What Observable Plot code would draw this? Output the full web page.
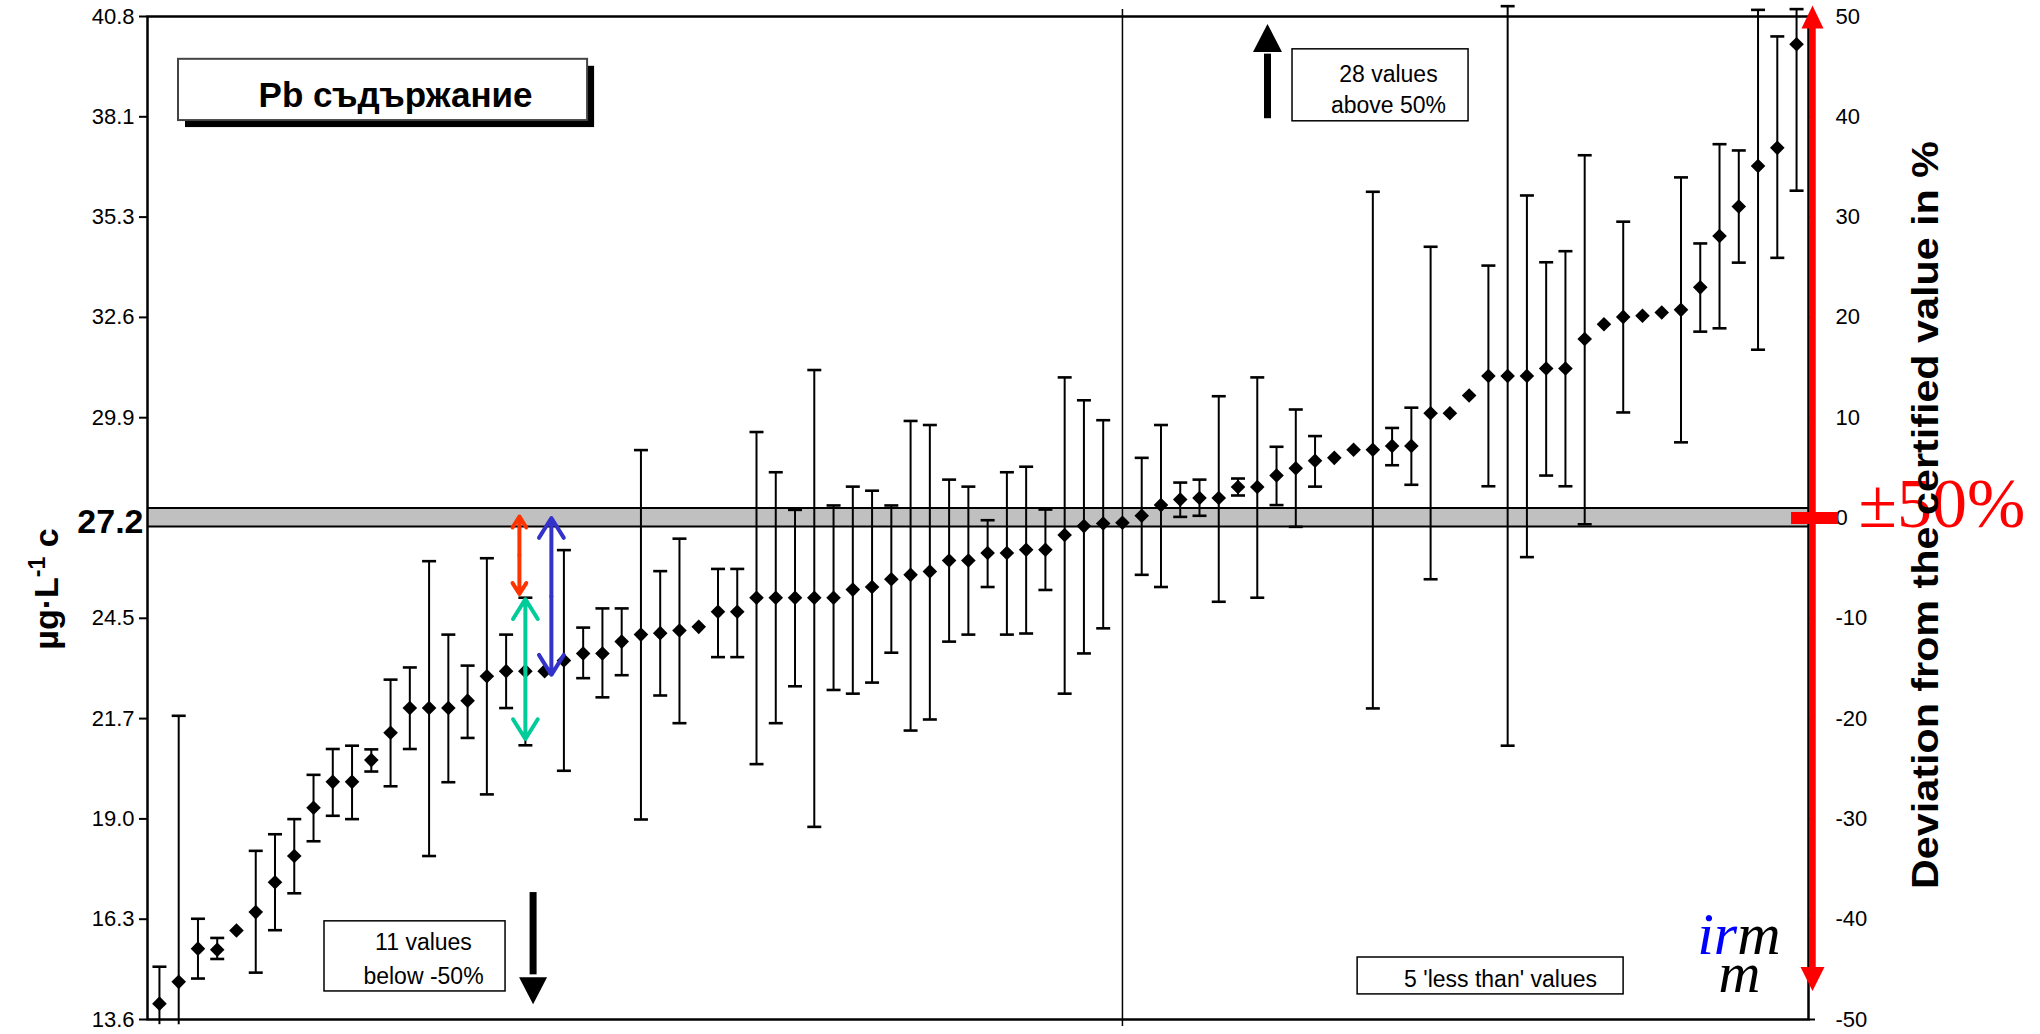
<!DOCTYPE html>
<html>
<head>
<meta charset="utf-8">
<script src="https://cdn.jsdelivr.net/npm/d3@7"></script>
<script src="https://cdn.jsdelivr.net/npm/@observablehq/plot@0.6"></script>
<style>
html, body { margin: 0; padding: 0; background: #fff; }
#chart svg { display: block; }
</style>
</head>
<body>
<div id="chart"></div>
<script>
// ---------------- data ----------------
const certifiedValue = 27.18;
const certifiedBand = [26.95, 27.45];
const labIndex = d3.range(1, 87);
const labMeans = [
  14.02, 14.61, 15.51, 15.48, 16.00, 16.50, 17.31, 18.02, 19.33, 20.03,
  20.03, 20.62, 21.36, 22.03, 22.03, 22.03, 22.23, 22.89, 23.03, 23.03,
  23.03, 23.32, 23.51, 23.51, 23.83, 24.02, 24.06, 24.13, 24.23, 24.64,
  24.64, 25.02, 25.02, 25.02, 25.02, 25.02, 25.24, 25.31, 25.52, 25.64,
  25.73, 26.03, 26.03, 26.23, 26.23, 26.32, 26.32, 26.72, 26.96, 27.03,
  27.05, 27.24, 27.53, 27.68, 27.72, 27.72, 28.02, 28.02, 28.33, 28.53,
  28.73, 28.81, 29.03, 29.03, 29.13, 29.13, 30.02, 30.02, 30.50, 31.03,
  31.03, 31.03, 31.23, 31.23, 32.03, 32.43, 32.63, 32.66, 32.75, 32.82,
  33.43, 34.82, 35.62, 36.72, 37.21, 40.02
];
const labLower = [
  13.45, 13.45, 14.70, 15.23, null, 14.86, 16.01, 17.01, 18.42, 19.11,
  19.02, 20.31, 19.91, 20.92, 18.02, 20.02, 21.22, 19.69, 22.03, 21.02,
  null, 20.33, 22.84, 22.32, 22.92, 19.01, 22.37, 21.62, null, 23.41,
  23.41, 20.51, 21.62, 22.62, 18.81, 22.52, 22.42, 22.72, 23.53, 21.42,
  21.72, 23.83, 24.02, 25.31, 24.02, 24.05, 25.23, 22.42, 23.51, 24.19,
  null, 25.64, 25.31, 27.21, 27.24, 24.91, 27.79, 25.02, 27.53, 26.94,
  28.03, null, null, 22.02, 28.61, 28.08, 25.52, null, null, 28.04,
  21.01, 26.12, 28.33, 28.04, 27.01, null, 30.04, null, null, 29.23,
  32.23, 32.32, 34.10, 31.74, 34.23, 36.05
];
const labUpper = [
  15.02, 21.82, 16.32, 15.80, null, 18.16, 18.61, 19.02, 20.22, 20.92,
  21.01, 20.91, 22.80, 23.13, 26.01, 24.02, 23.18, 26.09, 24.02, 25.02,
  null, 26.31, 24.21, 24.73, 24.73, 29.02, 25.74, 26.62, null, 25.80,
  25.80, 29.51, 28.42, 27.40, 31.19, 27.52, 28.03, 27.92, 27.52, 29.81,
  29.70, 28.22, 28.03, 27.12, 28.42, 28.57, 27.41, 30.99, 30.37, 29.83,
  null, 28.81, 29.70, 28.14, 28.22, 30.48, 28.25, 30.99, 29.11, 30.12,
  29.40, null, null, 36.02, 29.62, 30.17, 34.53, null, null, 34.02,
  41.05, 35.92, 34.11, 34.41, 37.01, null, 35.21, null, null, 36.41,
  34.62, 37.31, 37.14, 40.95, 40.23, 40.97
];
const deviationTicks = [-50, -40, -30, -20, -10, 0, 10, 20, 30, 40, 50];
const concentrationTickLabels = ["13.6", "16.3", "19.0", "21.7", "24.5", "27.2", "29.9", "32.6", "35.3", "38.1", "40.8"];
const medianLab = 51;

const titleText = "Pb съдържание";
const aboveText = "28 values\nabove 50%";
const belowText = "11 values\nbelow -50%";
const lessThanText = "5 'less than' values";
const leftTitle = "µg·L-1 c";
const rightTitle = "Deviation from the certified value in %";
const bandLabel = "±50%";
const logoTop = "irm";
const logoBottom = "m";

// ---------------- derived ----------------
const data = labIndex.map((lab, i) => ({lab, mean: labMeans[i], lower: labLower[i], upper: labUpper[i]}));
const withErr = data.filter(d => d.lower != null && d.upper != null);
const tickValues = deviationTicks.map(p => certifiedValue * (1 + p / 100));
const yDomain = [tickValues[0], tickValues[tickValues.length - 1]];
const xDomain = [0.38, 86.62];
const tickIndex = v => tickValues.findIndex(t => Math.abs(t - v) < 1e-6);

// ---------------- symbols ----------------
const diamondSym = {draw(c) { const r = 7.3; c.moveTo(0, -r); c.lineTo(r, 0); c.lineTo(0, r); c.lineTo(-r, 0); c.closePath(); }};
const capSym = {draw(c) { c.moveTo(-7, 0); c.lineTo(7, 0); }};
const triUp = (w, h) => ({draw(c) { c.moveTo(0, 0); c.lineTo(w / 2, h); c.lineTo(-w / 2, h); c.closePath(); }});
const triDown = (w, h) => ({draw(c) { c.moveTo(0, 0); c.lineTo(w / 2, -h); c.lineTo(-w / 2, -h); c.closePath(); }});

const sans = "'Liberation Sans', Arial, sans-serif";
const serif = "'Liberation Serif', 'Times New Roman', serif";
const one = [0];
const K = v => () => v;

// double headed arrow helper (two arrows from the midpoint)
function doubleArrow(x, ya, yb, color) {
  const mid = (ya + yb) / 2;
  const opts = {stroke: color, strokeWidth: 4, headLength: 8.8, headAngle: 64};
  return [
    Plot.arrow(one, {x1: K(x), x2: K(x), y1: K(mid), y2: K(ya), ...opts}),
    Plot.arrow(one, {x1: K(x), x2: K(x), y1: K(mid), y2: K(yb), ...opts})
  ];
}

const chart = Plot.plot({
  width: 2040,
  height: 1034,
  marginLeft: 147,
  marginRight: 232,
  marginTop: 16,
  marginBottom: 15,
  style: {fontFamily: sans, fontSize: "22px", background: "white", color: "black", overflow: "visible"},
  x: {domain: xDomain, axis: null},
  y: {domain: yDomain},
  marks: [
    // certified band
    Plot.rect(one, {x1: K(xDomain[0]), x2: K(xDomain[1]), y1: K(certifiedBand[0]), y2: K(certifiedBand[1]), fill: "#c0c0c0"}),
    Plot.ruleY(certifiedBand, {stroke: "black", strokeWidth: 2}),
    // median lab line
    Plot.ruleX([medianLab], {stroke: "black", strokeWidth: 1.5, insetTop: -7, insetBottom: -7}),
    // error bars
    Plot.ruleX(withErr, {x: "lab", y1: "lower", y2: "upper", stroke: "black", strokeWidth: 2}),
    Plot.dot(withErr.filter(d => d.lower >= yDomain[0]), {x: "lab", y: "lower", symbol: capSym, stroke: "black", strokeWidth: 2.6, fill: "none"}),
    Plot.dot(withErr, {x: "lab", y: "upper", symbol: capSym, stroke: "black", strokeWidth: 2.6, fill: "none"}),
    // means
    Plot.dot(data, {x: "lab", y: "mean", symbol: diamondSym, fill: "black", stroke: "none"}),
    Plot.frame({stroke: "black", strokeWidth: 2.5}),
    // left axis
    Plot.axisY({ticks: tickValues.filter((v, i) => i !== 5), anchor: "left", tickSize: 8, tickPadding: 5, strokeWidth: 2,
      tickFormat: v => concentrationTickLabels[tickIndex(v)], fontSize: 22, label: null}),
    Plot.axisY({ticks: [tickValues[5]], anchor: "left", tickSize: 0, tickPadding: 4, dy: 4,
      tickFormat: v => concentrationTickLabels[tickIndex(v)], fontSize: 34, fontWeight: "bold", label: null}),
    // right axis
    Plot.axisY({ticks: tickValues, anchor: "right", tickSize: 6, tickPadding: 21, strokeWidth: 2,
      tickFormat: v => String(deviationTicks[tickIndex(v)]), fontSize: 22, label: null}),
    // title box
    Plot.rect(one, {x1: K(1.99), x2: K(23.23), y1: K(37.95), y2: K(39.61), fill: "black", dx: 7, dy: 7}),
    Plot.rect(one, {x1: K(1.99), x2: K(23.23), y1: K(37.95), y2: K(39.61), fill: "white", stroke: "#444", strokeWidth: 2}),
    Plot.text([titleText], {x: K(13.26), y: K(38.78), text: d => d, dy: 6, fontSize: 35, fontWeight: "bold", textAnchor: "middle", lineAnchor: "middle"}),
    // above box + arrow
    Plot.rect(one, {x1: K(59.83), x2: K(68.97), y1: K(37.93), y2: K(39.88), fill: "white", stroke: "black", strokeWidth: 1.5}),
    Plot.text([aboveText], {x: K(64.81), y: K(38.15), text: d => d, fontSize: 23, lineHeight: 1.348, textAnchor: "middle", lineAnchor: "bottom"}),
    Plot.ruleX(one, {x: K(58.53), y1: K(38.0), y2: K(39.75), stroke: "black", strokeWidth: 7}),
    Plot.dot(one, {x: K(58.53), y: K(40.57), symbol: triUp(29, 28), fill: "black", stroke: "none"}),
    // below box + arrow
    Plot.rect(one, {x1: K(9.57), x2: K(18.97), y1: K(14.35), y2: K(16.25), fill: "white", stroke: "black", strokeWidth: 1.5}),
    Plot.text([belowText], {x: K(14.71), y: K(14.55), text: d => d, fontSize: 23, lineHeight: 1.478, textAnchor: "middle", lineAnchor: "bottom"}),
    Plot.ruleX(one, {x: K(20.40), y1: K(14.8), y2: K(17.03), stroke: "black", strokeWidth: 7}),
    Plot.dot(one, {x: K(20.40), y: K(14.0), symbol: triDown(28, 27), fill: "black", stroke: "none"}),
    // less-than box
    Plot.rect(one, {x1: K(63.21), x2: K(77.02), y1: K(14.27), y2: K(15.27), fill: "white", stroke: "black", strokeWidth: 1.5}),
    Plot.text([lessThanText], {x: K(70.63), y: K(14.46), text: d => d, fontSize: 23, textAnchor: "middle", lineAnchor: "bottom"}),
    // coloured explanation arrows
    ...doubleArrow(19.69, 27.22, 25.12, "#ff3300"),
    ...doubleArrow(20.0, 24.98, 21.19, "#00cc99"),
    ...doubleArrow(21.35, 27.18, 22.93, "#3333cc"),
    // red deviation arrow
    Plot.ruleX(one, {x: K(xDomain[1]), y1: K(14.9), y2: K(40.6), stroke: "#ff0000", strokeWidth: 6.5, dx: 4}),
    Plot.dot(one, {x: K(xDomain[1]), y: K(41.07), symbol: triUp(22, 23), fill: "#ff0000", stroke: "none", dx: 4}),
    Plot.dot(one, {x: K(xDomain[1]), y: K(14.36), symbol: triDown(24, 24), fill: "#ff0000", stroke: "none", dx: 4}),
    Plot.ruleY([certifiedValue], {x1: K(85.74), x2: K(88.18), stroke: "#ff0000", strokeWidth: 12}),
    Plot.text([bandLabel], {x: K(xDomain[1]), y: K(certifiedValue), text: d => d, dx: 50, dy: 9, textAnchor: "start", lineAnchor: "bottom",
      fontSize: 70, fontFamily: serif, fill: "#ff0000"}),
    // irmm logo
    Plot.text([logoTop], {frameAnchor: "bottom-right", text: d => d, dx: -28, dy: -66, textAnchor: "end", lineAnchor: "bottom",
      fontSize: 60, fontStyle: "italic", fontFamily: serif, fill: "black"}),
    Plot.text([logoBottom], {frameAnchor: "bottom-right", text: d => d, dx: -48, dy: -28, textAnchor: "end", lineAnchor: "bottom",
      fontSize: 58, fontStyle: "italic", fontFamily: serif, fill: "black"}),
    // axis titles
    Plot.text([leftTitle], {frameAnchor: "left", text: d => d, dx: -90, dy: 71, rotate: -90, textAnchor: "middle", lineAnchor: "bottom",
      fontSize: 34, fontWeight: "bold"}),
    Plot.text([rightTitle], {frameAnchor: "right", text: d => d, dx: 129, dy: -3, rotate: -90, textAnchor: "middle", lineAnchor: "bottom",
      fontSize: 36, fontWeight: "bold"})
  ]
});

document.getElementById("chart").appendChild(chart);

// typographic touches: stretch right title, superscript in the left title, blue "ir" in the logo
d3.select(chart).selectAll("text").each(function () {
  if (this.textContent === rightTitle) {
    this.setAttribute("textLength", 748);
    this.setAttribute("lengthAdjust", "spacingAndGlyphs");
  } else if (this.textContent === leftTitle) {
    const t = d3.select(this);
    t.text(null);
    t.append("tspan").text("µg·L");
    t.append("tspan").attr("dy", -13).attr("font-size", "0.68em").text("-1");
    t.append("tspan").attr("dy", 13).text(" c");
  } else if (this.textContent === logoTop) {
    const t = d3.select(this);
    t.text(null);
    t.append("tspan").attr("fill", "#0000ff").text("ir");
    t.append("tspan").text("m");
  }
});
</script>
</body>
</html>
